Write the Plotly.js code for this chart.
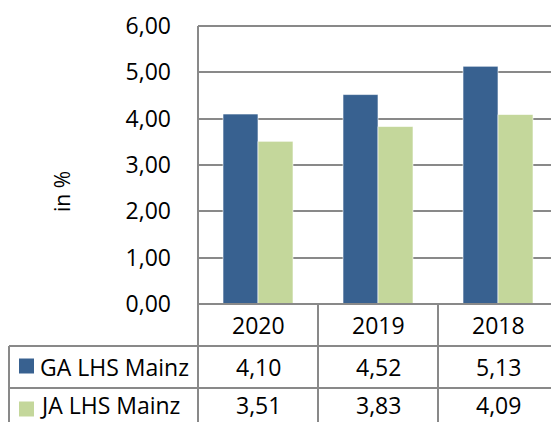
<!DOCTYPE html>
<html>
<head>
<meta charset="utf-8">
<script src="https://cdn.plot.ly/plotly-3.0.1.min.js"></script>
<style>
html,body{margin:0;padding:0;overflow:hidden;background:#fff;width:551px;height:422px;}
#chart{width:560px;height:422px;}
</style>
</head>
<body>
<div id="chart"></div>
<script>
const categories = ["2020", "2019", "2018"];
const seriesNames = ["GA LHS Mainz", "JA LHS Mainz"];
const gaValues = [4.10, 4.52, 5.13];
const jaValues = [3.51, 3.83, 4.09];
const yTickValues = [0, 1, 2, 3, 4, 5, 6];
const yAxisLabel = "in %";

const colors = ["#386190", "#C4D79B"];
const lineColor = "#898989";
const FONT = "Open Sans, Noto Sans, sans-serif";

// plot area in pixels: left 198, right 558, top 26, bottom 304
const L = 198, R = 558, T = 26, B = 304, W = 560, H = 422;
const px = x => (x - L) / (R - L);
const py = y => (B - y) / (B - T);

const fmt = v => v.toFixed(2).replace(".", ",");

const traces = [
  {type: "bar", name: seriesNames[0], x: categories, y: gaValues,
   marker: {color: colors[0], line: {color: "rgba(255,255,255,0.6)", width: 1}}, hoverinfo: "skip"},
  {type: "bar", name: seriesNames[1], x: categories, y: jaValues,
   marker: {color: colors[1], line: {color: "rgba(255,255,255,0.6)", width: 1}}, hoverinfo: "skip"}
];

const shapes = [];
const line = (x0, y0, x1, y1) => shapes.push({type: "line", xref: "paper", yref: "paper",
  x0: px(x0), y0: py(y0), x1: px(x1), y1: py(y1), line: {color: lineColor, width: 2}, layer: "above"});

// top gridline of plot area
line(L, T, W + 5, T);
// left axis line extending through table
line(L, T, L, H + 2);
// x axis / table top
line(L, B, W + 5, B);
// column separators
line(318, B, 318, H + 2);
line(438, B, 438, H + 2);
// row lines
line(9, 346, W + 5, 346);
line(9, 388, W + 5, 388);
// left border of legend column
line(9, 346, 9, H + 2);

// legend squares
const squareRows = [366, 409];
squareRows.forEach((cy, i) => {
  shapes.push({type: "rect", xref: "paper", yref: "paper",
    x0: px(19), x1: px(34), y0: py(cy - 7.5), y1: py(cy + 7.5),
    fillcolor: colors[i], line: {width: 0}});
});

const annotations = [];
const rowCenters = [325, 367, 405];
const cellFont = {family: FONT, size: 23, color: "#000"};
categories.forEach((c, j) => {
  annotations.push({xref: "x", yref: "paper", x: j, y: py(rowCenters[0]), text: c,
    showarrow: false, xanchor: "center", yanchor: "middle", font: cellFont});
  annotations.push({xref: "x", yref: "paper", x: j, y: py(rowCenters[1]), text: fmt(gaValues[j]),
    showarrow: false, xanchor: "center", yanchor: "middle", font: cellFont});
  annotations.push({xref: "x", yref: "paper", x: j, y: py(rowCenters[2]), text: fmt(jaValues[j]),
    showarrow: false, xanchor: "center", yanchor: "middle", font: cellFont});
});
seriesNames.forEach((n, i) => {
  annotations.push({xref: "paper", yref: "paper", x: px(38), y: py(rowCenters[i + 1]), text: n,
    showarrow: false, xanchor: "left", yanchor: "middle", font: cellFont});
});
annotations.push({xref: "paper", yref: "paper", x: px(62), y: py(192), text: yAxisLabel, textangle: -90,
  showarrow: false, xanchor: "center", yanchor: "middle", font: {family: FONT, size: 21, color: "#000"}});

const layout = {
  width: W, height: H,
  margin: {l: L, r: W - R, t: T, b: H - B, pad: 0},
  paper_bgcolor: "#fff", plot_bgcolor: "#fff",
  separators: ",.",
  barmode: "group", bargap: 0.4167, bargroupgap: 0,
  showlegend: false,
  font: {family: FONT, size: 23, color: "#000"},
  xaxis: {type: "category", range: [-0.5, 2.5], autorange: false, showticklabels: false, showgrid: false,
    zeroline: false, showline: false, ticks: "", fixedrange: true},
  yaxis: {range: [0, 6], autorange: false, tickvals: yTickValues, tickformat: ".2f", showgrid: true, gridcolor: lineColor,
    gridwidth: 2, zeroline: false, showline: false, ticks: "", ticklabelstandoff: 26,
    tickfont: {family: FONT, size: 23, color: "#000"}, fixedrange: true},
  shapes: shapes,
  annotations: annotations
};

Plotly.newPlot("chart", traces, layout, {displayModeBar: false, staticPlot: true});
</script>
</body>
</html>
